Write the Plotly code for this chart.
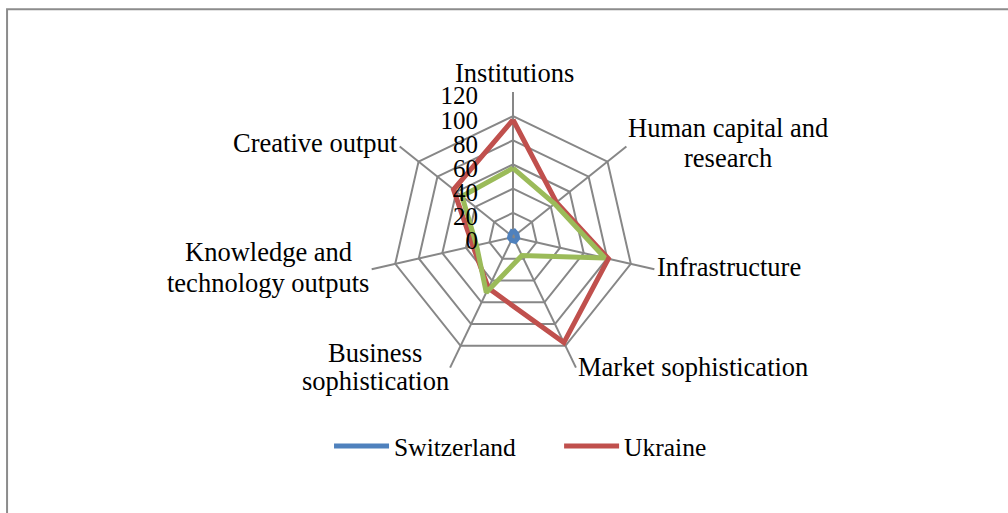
import plotly.graph_objects as go

# pillars of the index, clockwise from the top
categories = ['Institutions', 'Human capital and research', 'Infrastructure',
              'Market sophistication', 'Business sophistication',
              'Knowledge and technology outputs', 'Creative output']

switzerland = [6, 4, 4, 4, 3, 3, 3]
ukraine = [97, 46, 81, 97, 47, 34, 63]
third = [57, 44, 78, 17, 51, 31, 54]

radial_ticks = [0, 20, 40, 60, 80, 100, 120]

# label lines as they are wrapped on the chart
label_lines = [['Institutions'], ['Human capital and', 'research'], ['Infrastructure'],
               ['Market sophistication'], ['Business', 'sophistication'],
               ['Knowledge and', 'technology outputs'], ['Creative output']]

FONT = 'Liberation Serif'
GRID = '#878787'

def closed(vals):
    return vals + vals[:1]

cats = closed(categories)

fig = go.Figure()
fig.add_trace(go.Scatterpolar(r=closed(switzerland), theta=cats, mode='lines',
                              name='Switzerland\u00a0\u00a0\u00a0\u00a0\u00a0\u00a0',
                              line=dict(color='#4F81BD', width=5)))
fig.add_trace(go.Scatterpolar(r=closed(ukraine), theta=cats, mode='lines',
                              name='Ukraine', line=dict(color='#C0504D', width=5)))
fig.add_trace(go.Scatterpolar(r=closed(third), theta=cats, mode='lines',
                              name='', showlegend=False,
                              line=dict(color='#9BBB59', width=5)))

fig.update_layout(
    width=1008, height=513,
    margin=dict(l=0, r=0, t=0, b=0),
    paper_bgcolor='white',
    font=dict(family=FONT, size=25, color='black'),
    polar=dict(
        domain=dict(x=[0.3651, 0.6528], y=[0.2554, 0.8207]),
        bgcolor='white',
        gridshape='linear',
        angularaxis=dict(rotation=90, direction='clockwise', showticklabels=False,
                         ticks='', showline=False, gridcolor=GRID, gridwidth=1.7,
                         layer='below traces'),
        # invisible ticks push the labels away from the spoke
        radialaxis=dict(range=[0, 120], tickvals=radial_ticks, angle=90,
                        side='counterclockwise', ticks='outside', ticklen=12,
                        tickcolor='rgba(0,0,0,0)', showline=False,
                        gridcolor=GRID, gridwidth=1.7,
                        tickfont=dict(family=FONT, size=25, color='black'),
                        layer='above traces'),
    ),
    legend=dict(orientation='h', x=0.5164, xanchor='center', y=0.13, yanchor='middle',
                font=dict(family=FONT, size=25.5, color='black'),
                itemwidth=55, traceorder='normal'),
    showlegend=True,
)

# category labels around the web, one annotation per line
label_pos = [[(514, 73)], [(728, 128), (728, 158)], [(729, 267)], [(693, 367)],
             [(375, 353), (375, 381)], [(268, 252), (268, 283)], [(315, 143)]]
for lines, spots in zip(label_lines, label_pos):
    for txt, (px, py) in zip(lines, spots):
        fig.add_annotation(text=txt, x=px / 1008, y=1 - py / 513, xref='paper', yref='paper',
                           showarrow=False, xanchor='center', yanchor='middle',
                           font=dict(family=FONT, size=26.5, color='black'))

# outer frame of the chart area (runs off the right and bottom)
fig.add_shape(type='path', xref='paper', yref='paper',
              path='M 0.007,0 L 0.007,0.982 L 1.01,0.982',
              line=dict(color='#8C8C8C', width=2))

fig.write_html('out.html', config={'displayModeBar': False},
               post_script="document.body.style.margin='0';")
